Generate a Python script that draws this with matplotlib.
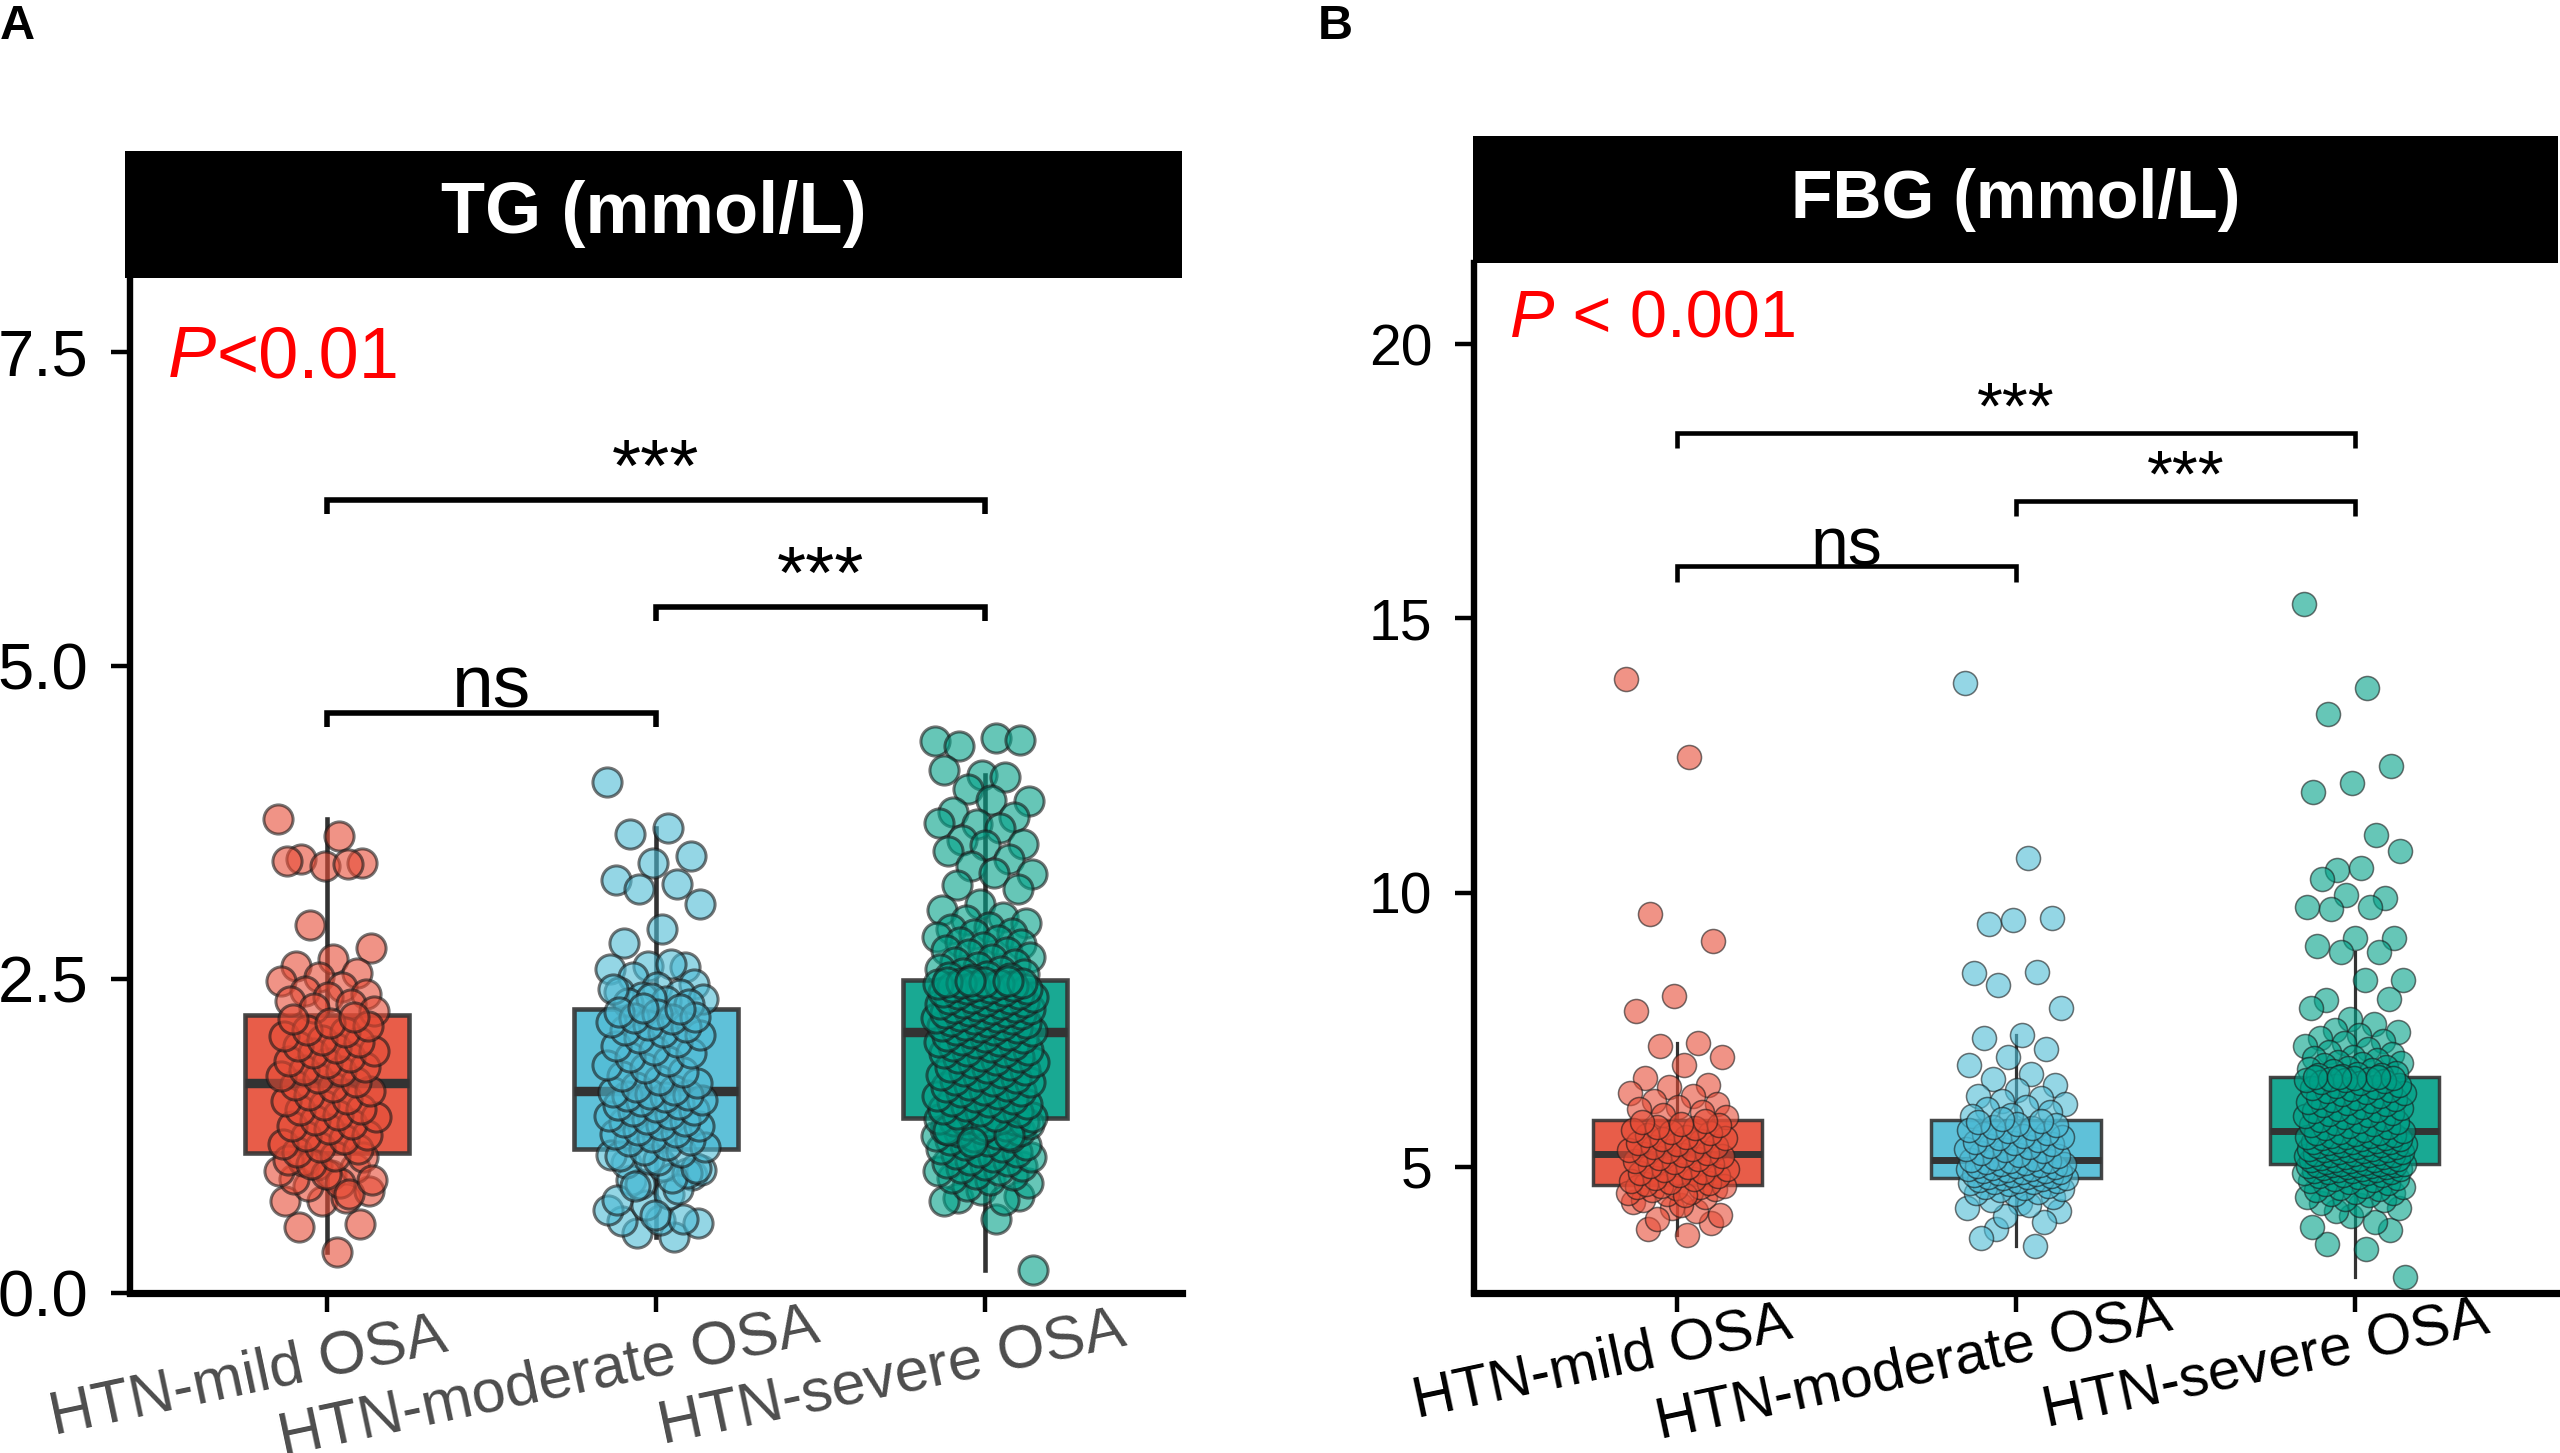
import numpy as np
import matplotlib
matplotlib.use('Agg')
import matplotlib.pyplot as plt
from matplotlib.patches import Rectangle
from matplotlib.transforms import ScaledTranslation
from matplotlib.textpath import TextPath
from matplotlib.font_manager import FontProperties

plt.rcParams['font.family'] = ['Liberation Sans', 'DejaVu Sans']

groups = ['HTN-mild OSA', 'HTN-moderate OSA', 'HTN-severe OSA']
colors = ['#E64B35', '#4DBBD5', '#00A087']

# TG (mmol/L), values
tg_mild = [3.78, 3.64, 3.46, 3.43, 3.40, 3.44, 3.42, 2.93, 2.75, 2.66, 2.61, 2.55, 2.52, 2.49, 2.44, 2.41, 2.38, 2.36, 2.33, 2.30, 2.27, 2.25,
           0.33, 0.53, 0.55, 0.73, 0.73, 0.76, 0.85, 0.81, 0.94, 0.91, 1.00, 1.02, 0.97, 0.88, 1.05, 1.08, 0.95, 1.06, 0.79, 1.03, 0.90, 1.09,
           1.12, 1.15, 1.16, 1.19, 1.23, 1.25, 1.26, 1.31, 1.33, 1.35, 1.38, 1.40, 1.42, 1.46, 1.47, 1.50, 1.53, 1.55, 1.58, 1.61, 1.64, 1.66,
           1.68, 1.71, 1.73, 1.77, 1.78, 1.80, 1.83, 1.85, 1.88, 1.91, 1.93, 1.95, 1.97, 2.00, 2.02, 2.05, 2.08, 2.10, 2.13, 2.15, 2.18, 2.20]
tg_moderate = [4.07, 3.71, 3.66, 3.48, 3.43, 3.29, 3.26, 3.22, 3.10, 2.90, 2.79, 2.60, 2.61, 2.58, 2.62, 2.52, 2.46, 2.44, 2.40, 2.38,
               2.36, 2.34, 2.33, 2.31, 2.30, 2.35, 2.42,
               0.45, 0.48, 0.56, 0.58, 0.57, 0.59, 0.70, 0.66, 0.79, 0.90, 0.94, 0.62, 0.74, 0.83, 0.87, 0.98, 1.01, 1.04, 0.96, 1.07,
               1.10, 0.92, 0.85, 1.00, 1.06, 1.09, 1.12,
               1.14, 1.16, 1.18, 1.21, 1.22, 1.24, 1.27, 1.28, 1.30, 1.33, 1.34, 1.36, 1.37, 1.39, 1.41, 1.43, 1.45, 1.46, 1.48, 1.50,
               1.51, 1.53, 1.54, 1.56, 1.57, 1.58, 1.59, 1.60,
               1.62, 1.64, 1.67, 1.70, 1.73, 1.76, 1.79, 1.82, 1.85, 1.88, 1.91, 1.94, 1.97, 2.00, 2.03, 2.06, 2.08, 2.10, 2.12, 2.14,
               2.16, 2.18, 2.19, 2.20, 2.22, 2.24, 2.26, 2.27]
tg_severe = [4.40, 4.42, 4.36, 4.41, 4.13, 4.17, 4.11, 4.02, 3.92, 3.93, 3.83, 3.79, 3.74, 3.75, 3.71, 3.61, 3.58, 3.57, 3.52, 3.46,
             3.40, 3.34, 3.35, 3.25, 3.22, 3.10, 3.05, 3.00, 2.97, 2.95, 2.92, 2.90, 2.87, 2.86, 2.84, 2.81, 2.80, 2.78, 2.76, 2.73,
             2.72, 2.70, 2.68, 2.66, 2.64, 2.62, 2.60, 2.58, 2.57, 2.55, 2.54, 2.53, 2.52, 2.51, 2.50,
             0.18, 0.59, 0.76, 0.77, 0.82, 0.73, 0.74, 0.85, 0.88, 0.90, 0.92, 0.94, 0.95, 0.97, 0.98, 1.00, 1.01, 1.02, 1.04, 1.05,
             1.06, 1.08, 1.08, 1.11, 1.12, 1.12, 1.15, 1.16, 1.18, 1.18, 1.21, 1.22, 1.24, 1.24, 1.25, 1.27, 1.28, 1.29, 1.31, 1.31,
             1.33, 1.34, 1.35, 1.36, 1.37, 1.38, 1.38, 1.39, 1.39, 1.39, 1.36, 1.33, 1.30, 1.26, 1.20,
             1.40, 1.41, 1.43, 1.44, 1.45, 1.47, 1.48, 1.49, 1.51, 1.52, 1.53, 1.55, 1.56, 1.57, 1.59, 1.60, 1.61, 1.62, 1.64, 1.65,
             1.66, 1.68, 1.69, 1.70, 1.71, 1.73, 1.74, 1.75, 1.77, 1.78, 1.79, 1.80, 1.82, 1.83, 1.84, 1.86, 1.87, 1.88, 1.89, 1.91,
             1.92, 1.93, 1.94, 1.96, 1.97, 1.98, 1.99, 2.00, 2.01, 2.02, 2.03, 2.04, 2.05, 2.06, 2.07,
             2.09, 2.10, 2.10, 2.11, 2.12, 2.13, 2.14, 2.14, 2.15, 2.16, 2.17, 2.18, 2.18, 2.19, 2.20, 2.21, 2.22, 2.22, 2.23, 2.24,
             2.25, 2.26, 2.26, 2.27, 2.28, 2.29, 2.30, 2.30, 2.31, 2.32, 2.33, 2.34, 2.34, 2.35, 2.36, 2.37, 2.38, 2.38, 2.39, 2.40,
             2.41, 2.42, 2.42, 2.43, 2.44, 2.45, 2.45, 2.46, 2.46, 2.47, 2.47, 2.48, 2.48, 2.49, 2.49]

# FBG (mmol/L), values
fbg_mild = [13.89, 12.47, 9.61, 9.11, 8.12, 7.85, 7.25, 7.20, 7.00, 6.85, 6.62, 6.50, 6.45, 6.35, 6.30, 6.20, 6.15, 6.10, 6.05, 6.00, 5.95, 5.90,
            3.75, 3.87, 3.98, 4.25, 4.36, 4.20, 4.05, 4.12, 4.30, 4.40, 4.45, 4.50, 4.52, 4.55, 4.58, 4.60, 4.62, 4.63, 4.64, 4.65, 4.66, 4.48,
            4.68, 4.70, 4.73, 4.75, 4.78, 4.80, 4.83, 4.86, 4.88, 4.91, 4.94, 4.96, 4.99, 5.02, 5.05, 5.08, 5.11, 5.14, 5.17, 5.19, 5.21, 5.23,
            5.25, 5.28, 5.30, 5.33, 5.36, 5.38, 5.41, 5.44, 5.47, 5.50, 5.52, 5.55, 5.58, 5.61, 5.64, 5.67, 5.70, 5.73, 5.76, 5.79, 5.82, 5.84]
fbg_moderate = [13.82, 10.64, 9.42, 9.53, 9.50, 8.54, 8.55, 8.31, 7.89, 7.40, 7.35, 7.15, 7.00, 6.85, 6.70, 6.60, 6.50, 6.40, 6.30, 6.25,
                6.20, 6.15, 6.10, 6.05, 6.00, 5.95, 5.92,
                3.56, 3.87, 4.20, 4.35, 3.70, 4.00, 4.10, 4.25, 4.30, 4.40, 4.45, 4.50, 4.52, 4.55, 4.58, 4.60, 4.62, 4.64, 4.66, 4.68,
                4.70, 4.72, 4.73, 4.74, 4.75, 4.76, 4.77,
                4.79, 4.80, 4.81, 4.82, 4.84, 4.85, 4.86, 4.87, 4.88, 4.90, 4.91, 4.92, 4.93, 4.95, 4.96, 4.97, 4.98, 5.00, 5.01, 5.02,
                5.03, 5.05, 5.06, 5.07, 5.08, 5.10, 5.11, 5.12,
                5.14, 5.17, 5.20, 5.22, 5.25, 5.28, 5.30, 5.33, 5.36, 5.38, 5.41, 5.44, 5.46, 5.49, 5.52, 5.54, 5.57, 5.60, 5.62, 5.65,
                5.68, 5.70, 5.73, 5.76, 5.78, 5.81, 5.84, 5.87]
fbg_severe = [15.26, 13.73, 13.25, 12.31, 12.00, 11.84, 11.05, 10.42, 10.76, 10.45, 10.25, 9.90, 9.95, 9.73, 9.74, 9.70, 9.17, 9.18, 9.03, 8.91,
              8.92, 8.40, 8.41, 8.05, 8.06, 7.70, 7.90, 7.60, 7.50, 7.45, 7.40, 7.35, 7.30, 7.25, 7.20, 7.15, 7.10, 7.05, 7.00, 6.98,
              6.95, 6.92, 6.90, 6.88, 6.85, 6.82, 6.80, 6.78, 6.76, 6.74, 6.72, 6.70, 6.68, 6.67, 6.66,
              2.99, 3.50, 3.60, 3.85, 4.10, 3.90, 4.00, 4.20, 4.25, 4.30, 4.35, 4.40, 4.42, 4.45, 4.48, 4.50, 4.52, 4.55, 4.57, 4.60,
              4.62, 4.64, 4.66, 4.68, 4.70, 4.72, 4.74, 4.76, 4.78, 4.80, 4.82, 4.83, 4.85, 4.86, 4.88, 4.89, 4.90, 4.91, 4.92, 4.93,
              4.94, 4.95, 4.96, 4.97, 4.98, 4.99, 5.00, 5.01, 5.02, 5.03, 5.03, 5.04, 5.04, 5.05, 5.05,
              5.06, 5.07, 5.09, 5.09, 5.10, 5.12, 5.12, 5.13, 5.15, 5.15, 5.16, 5.18, 5.18, 5.19, 5.21, 5.21, 5.22, 5.24, 5.24, 5.25,
              5.27, 5.27, 5.28, 5.30, 5.30, 5.31, 5.33, 5.33, 5.34, 5.36, 5.37, 5.38, 5.39, 5.40, 5.42, 5.42, 5.43, 5.45, 5.45, 5.46,
              5.48, 5.48, 5.50, 5.51, 5.52, 5.53, 5.54, 5.55, 5.56, 5.57, 5.58, 5.59, 5.61, 5.62, 5.64,
              5.66, 5.68, 5.70, 5.72, 5.74, 5.76, 5.78, 5.80, 5.82, 5.84, 5.86, 5.88, 5.90, 5.92, 5.94, 5.96, 5.98, 6.00, 6.02, 6.04,
              6.06, 6.08, 6.10, 6.12, 6.14, 6.16, 6.18, 6.20, 6.22, 6.24, 6.26, 6.28, 6.30, 6.32, 6.34, 6.36, 6.38, 6.40, 6.42, 6.44,
              6.46, 6.48, 6.50, 6.52, 6.54, 6.56, 6.58, 6.59, 6.60, 6.61, 6.62, 6.62, 6.63, 6.63, 6.64]

# pairwise comparisons: (group a, group b, bracket height, label)
tg_pairs = [(1, 3, 6.32, '***'), (2, 3, 5.47, '***'), (1, 2, 4.62, 'ns')]
fbg_pairs = [(1, 3, 18.38, '***'), (2, 3, 17.14, '***'), (1, 2, 15.95, 'ns')]

W, H = 2560, 1453
fig = plt.figure(figsize=(W / 100, H / 100), dpi=100)


def fx(px):
    return px / W


def fy(py):
    return 1 - py / H


def jitter(n, width=0.15):
    # deterministic, evenly spread horizontal offsets
    return (np.arange(n) * 0.6180339887 % 1.0 - 0.5) * 2 * width


def strip(x0, x1, y0, y1, title, fs):
    fig.add_artist(Rectangle((fx(x0), fy(y1)), fx(x1) - fx(x0), fy(y0) - fy(y1),
                             transform=fig.transFigure, facecolor='black', edgecolor='none'))
    fig.text((fx(x0) + fx(x1)) / 2, (fy(y0) + fy(y1)) / 2, title, color='white',
             fontsize=fs, fontweight='bold', ha='center', va='center')


def xlabels(ax, fs, color, drop, ang=12, hj=0.7):
    fp = FontProperties(family='Liberation Sans', size=fs)
    a = np.radians(ang)
    for i, lab in enumerate(groups):
        w = TextPath((0, 0), lab, size=fs, prop=fp).get_extents().width
        dx = -hj * w * np.cos(a)
        dy = -drop - hj * w * np.sin(a)
        tr = ax.get_xaxis_transform() + ScaledTranslation(dx / 72, dy / 72, fig.dpi_scale_trans)
        ax.text(i + 1, 0, lab, transform=tr, rotation=ang, rotation_mode='anchor',
                ha='left', va='baseline', fontsize=fs, color=color)


def panel(ax, series, ylim, yticks, yticklabels, pairs, st):
    bp = ax.boxplot(series, positions=[1, 2, 3], widths=0.5, patch_artist=True,
                    showfliers=False, showcaps=False, whis=1.5,
                    boxprops=dict(edgecolor='#333333', linewidth=st['box']),
                    whiskerprops=dict(color='#333333', linewidth=st['whisk']),
                    medianprops=dict(color='#333333', linewidth=st['med'], solid_capstyle='butt'),
                    zorder=2)
    for patch, c in zip(bp['boxes'], colors):
        patch.set_facecolor(c)
        patch.set_alpha(0.9)
        patch.set_edgecolor('#333333')
    for i, (vals, c) in enumerate(zip(series, colors)):
        ax.scatter(i + 1 + jitter(len(vals)), vals, s=st['s'], color=c, edgecolors='#1a1a1a',
                   linewidths=st['elw'], alpha=0.6, zorder=3)
    for a, b, y, lab in pairs:
        t = st['tick']
        ax.plot([a, a, b, b], [y - t, y, y, y - t], color='black', lw=st['blw'],
                solid_capstyle='butt', solid_joinstyle='miter', zorder=4)
        fs = st['star'] if lab == '***' else st['ns']
        ax.text((a + b) / 2, y + st['gap'][lab], lab, ha='center', va='baseline', fontsize=fs)
    ax.set_xlim(0.4, 3.6)
    ax.set_ylim(*ylim)
    ax.set_xticks([1, 2, 3])
    ax.set_yticks(yticks)
    ax.set_yticklabels(yticklabels)
    for side in ['top', 'right']:
        ax.spines[side].set_visible(False)
    ax.spines['left'].set_linewidth(4.6)
    ax.spines['bottom'].set_linewidth(5.2)
    ax.tick_params(axis='x', length=14, width=3.2, labelbottom=False)
    ax.tick_params(axis='y', length=14, width=3.2, pad=16, labelsize=st['ytick'])
    ax.patch.set_visible(False)


# Panel A
axA = fig.add_axes([fx(130), fy(1293), fx(1182) - fx(130), fy(278) - fy(1293)])
panel(axA, [tg_mild, tg_moderate, tg_severe], (0, 8.09), [0, 2.5, 5, 7.5],
      ['0.0', '2.5', '5.0', '7.5'], tg_pairs,
      dict(box=3.3, whisk=3.3, med=6.8, s=440, elw=2.2, tick=0.11, blw=4.0,
           star=54, ns=54, gap={'***': 0.07, 'ns': 0.05}, ytick=47))
xlabels(axA, 44, '#4D4D4D', 60)
strip(125, 1182, 151, 278, 'TG (mmol/L)', 52)
pA = fig.text(fx(168), fy(377), 'P', color='red', fontsize=52, style='italic', va='baseline')
axA.annotate('<0.01', xy=(1, 0), xycoords=pA, color='red', fontsize=52, va='bottom', ha='left')
fig.text(fx(0), fy(4), 'A', fontsize=35, fontweight='bold', va='top', ha='left')

# Panel B
axB = fig.add_axes([fx(1474), fy(1293), fx(2558) - fx(1474), fy(263) - fy(1293)])
panel(axB, [fbg_mild, fbg_moderate, fbg_severe], (2.70, 21.48), [5, 10, 15, 20],
      ['5', '10', '15', '20'], fbg_pairs,
      dict(box=2.5, whisk=2.3, med=5.0, s=300, elw=1.1, tick=0.28, blw=3.3,
           star=48, ns=49, gap={'***': 0.08, 'ns': 0.02}, ytick=41))
xlabels(axB, 42, 'black', 50)
strip(1473, 2558, 136, 263, 'FBG (mmol/L)', 49)
pB = fig.text(fx(1510), fy(337), 'P', color='red', fontsize=48, style='italic', va='baseline')
axB.annotate(' < 0.001', xy=(1, 0), xycoords=pB, color='red', fontsize=48, va='bottom', ha='left')
fig.text(fx(1318), fy(4), 'B', fontsize=35, fontweight='bold', va='top', ha='left')

fig.savefig('out.png', dpi=100, facecolor='white')
